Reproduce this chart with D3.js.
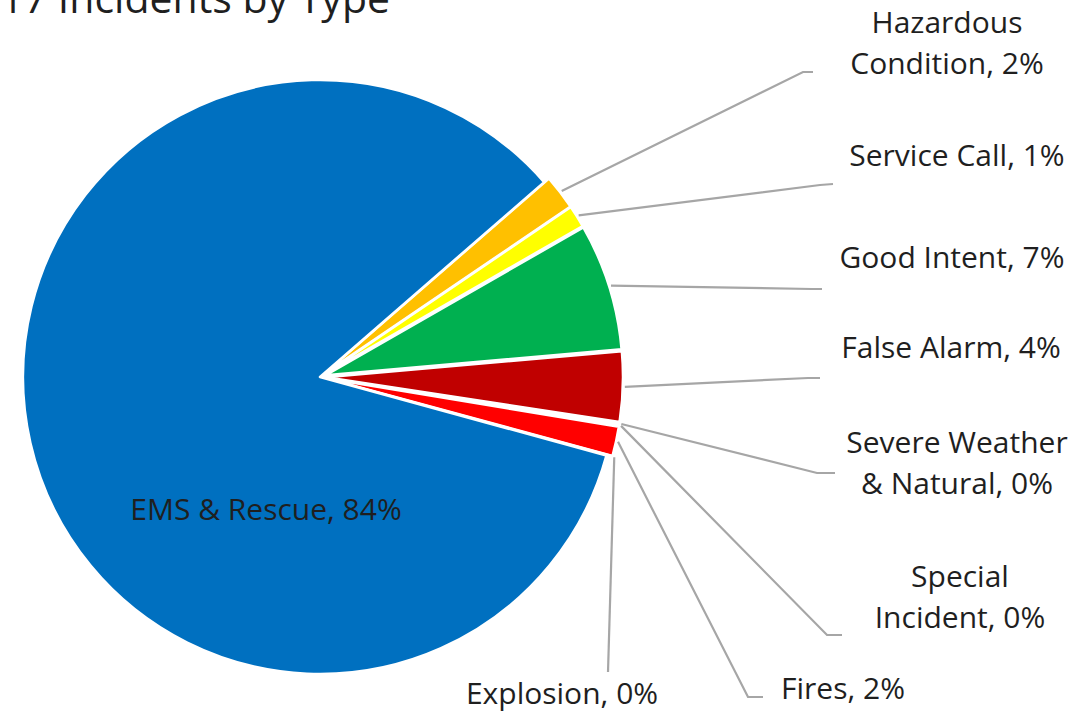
<!DOCTYPE html>
<html>
<head>
  <meta charset="utf-8">
  <title>incidents-pie</title>
  <style>
    * { margin: 0; padding: 0; }
    body { background: #fff; width: 1073px; height: 714px; overflow: hidden; }
    svg text { font-family: "Open Sans", Lato, sans-serif; fill: #1f1f1f; }
  </style>
</head>
<body>
  <svg id="svg"></svg>
  <script src="https://cdnjs.cloudflare.com/ajax/libs/d3/7.8.5/d3.min.js"></script>
  <script>
    // clockwise order, starting from the Hazardous slice
    const categories = ['Hazardous Condition', 'Service Call', 'Good Intent', 'False Alarm',
      'Severe Weather & Natural', 'Special Incident', 'Fires', 'Explosion', 'EMS & Rescue'];
    const shares = [1.9, 1.2, 6.9, 3.8, 0.1, 0.1, 1.6, 0.05, 84.35];
    const colors = ['#FFC000', '#FFFF00', '#00B050', '#C00000', '#4472C4', '#A5A5A5', '#FF0000', '#ED7D31', '#0070C0'];
    const labelLines = [
      ['Hazardous', 'Condition, '],
      ['Service Call, '],
      ['Good Intent, '],
      ['False Alarm, '],
      ['Severe Weather', '& Natural, '],
      ['Special', 'Incident, '],
      ['Fires, '],
      ['Explosion, '],
      ['EMS & Rescue, ']
    ];

    const width = 1073, height = 714;
    const cx = 320, cy = 377, radius = 297, explode = 6;

    // label boxes (centre x, first line y) and leader elbows
    const labelPos = [
      { x: 947, y: 22, elbow: [803, 72], end: [813, 72] },
      { x: 957, y: 155, elbow: [820, 185], end: [833, 184] },
      { x: 952, y: 257, elbow: [812, 289], end: [822, 289] },
      { x: 951, y: 347, elbow: [808, 378], end: [820, 378] },
      { x: 957, y: 442, elbow: [817, 473], end: [835, 473] },
      { x: 960, y: 576, elbow: [827, 635], end: [842, 635] },
      { x: 843, y: 688, elbow: [748, 697], end: [763, 697] },
      { x: 562, y: 693, elbow: [608, 672], end: [608, 672] },
      null
    ];

    const data = categories.map((c, i) => ({ name: c, value: shares[i], i }));

    const svg = d3.select('#svg').attr('width', width).attr('height', height);

    const start = 49 * Math.PI / 180;
    const pie = d3.pie().sort(null).value(d => d.value)
      .startAngle(start).endAngle(start + 2 * Math.PI);
    const arcs = pie(data);
    const arc = d3.arc().innerRadius(0).outerRadius(radius);

    const g = svg.append('g').attr('transform', `translate(${cx},${cy})`);

    const offset = d => {
      if (d.data.name === 'EMS & Rescue') return [0, 0];
      const a = (d.startAngle + d.endAngle) / 2;
      return [Math.sin(a) * explode, -Math.cos(a) * explode];
    };

    g.selectAll('path.slice')
      .data(arcs)
      .enter()
      .append('path')
      .attr('class', 'slice')
      .attr('d', arc)
      .attr('transform', d => `translate(${offset(d)})`)
      .style('fill', d => colors[d.data.i])
      .style('stroke', '#fff')
      .style('stroke-width', 2.5)
      .style('stroke-linejoin', 'round');

    // leader lines
    arcs.forEach(d => {
      const p = labelPos[d.data.i];
      if (!p) return;
      const a = (d.startAngle + d.endAngle) / 2;
      const [ox, oy] = offset(d);
      const sx = cx + ox + Math.sin(a) * (radius + 2);
      const sy = cy + oy - Math.cos(a) * (radius + 2);
      svg.append('polyline')
        .attr('points', [[sx, sy], p.elbow, p.end].map(q => q.join(',')).join(' '))
        .style('fill', 'none')
        .style('stroke', '#A6A6A6')
        .style('stroke-width', 2.2);
    });

    // labels
    arcs.forEach(d => {
      const i = d.data.i;
      const pct = Math.round(d.data.value) + '%';
      const lines = labelLines[i].slice();
      lines[lines.length - 1] += pct;
      let x, y;
      if (labelPos[i]) { x = labelPos[i].x; y = labelPos[i].y; }
      else { x = 266; y = 509; }
      const t = svg.append('text')
        .attr('text-anchor', 'middle')
        .style('font-size', '30px');
      lines.forEach((l, k) => {
        t.append('tspan')
          .attr('x', x)
          .attr('y', y + k * 41)
          .attr('dy', '0.35em')
          .text(l);
      });
    });

    // title (cut at the top left in the original)
    svg.append('text')
      .attr('x', 390)
      .attr('y', 13)
      .attr('text-anchor', 'end')
      .style('font-size', '41px')
      .text('2017 Incidents by Type');
  </script>
</body>
</html>
